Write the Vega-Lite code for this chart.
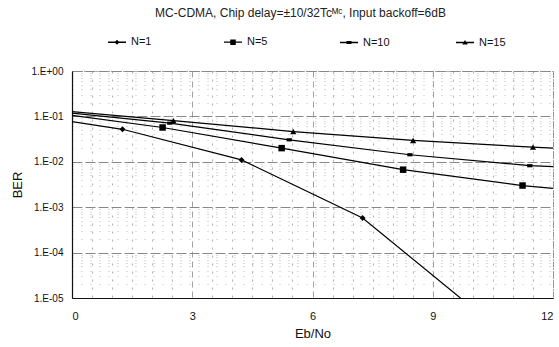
{
  "$schema": "https://vega.github.io/schema/vega-lite/v6.json",
  "autosize": "none",
  "width": 481,
  "height": 227,
  "padding": {"left": 72, "top": 71, "right": 6, "bottom": 49},
  "background": "white",
  "config": {
    "font": "Liberation Sans",
    "view": {"stroke": "#555", "strokeDash": [1, 2], "strokeWidth": 1}
  },
  "title": {
    "text": "MC-CDMA, Chip delay=±10/32Tcᴹᶜ, Input backoff=6dB",
    "fontSize": 12,
    "fontWeight": "normal",
    "color": "#222",
    "anchor": "middle",
    "dx": -12,
    "offset": 16
  },
  "datasets": {
    "curve": [
      {"N": "N=1", "ebno": 0, "ber": 0.077},
      {"N": "N=1", "ebno": 1.26, "ber": 0.052},
      {"N": "N=1", "ebno": 4.23, "ber": 0.011},
      {"N": "N=1", "ebno": 7.25, "ber": 0.00058},
      {"N": "N=1", "ebno": 9.69, "ber": 0.00001},
      {"N": "N=5", "ebno": 0, "ber": 0.105},
      {"N": "N=5", "ebno": 2.26, "ber": 0.057},
      {"N": "N=5", "ebno": 5.23, "ber": 0.020},
      {"N": "N=5", "ebno": 8.26, "ber": 0.0067},
      {"N": "N=5", "ebno": 11.24, "ber": 0.0030},
      {"N": "N=5", "ebno": 12, "ber": 0.0026},
      {"N": "N=10", "ebno": 0, "ber": 0.118},
      {"N": "N=10", "ebno": 2.44, "ber": 0.071},
      {"N": "N=10", "ebno": 5.42, "ber": 0.0305},
      {"N": "N=10", "ebno": 8.43, "ber": 0.0143},
      {"N": "N=10", "ebno": 11.42, "ber": 0.0082},
      {"N": "N=10", "ebno": 12, "ber": 0.0078},
      {"N": "N=15", "ebno": 0, "ber": 0.128},
      {"N": "N=15", "ebno": 2.53, "ber": 0.081},
      {"N": "N=15", "ebno": 5.52, "ber": 0.0464},
      {"N": "N=15", "ebno": 8.51, "ber": 0.0295},
      {"N": "N=15", "ebno": 11.5, "ber": 0.021},
      {"N": "N=15", "ebno": 12, "ber": 0.020}
    ],
    "marker": [
      {"N": "N=1", "ebno": 1.26, "ber": 0.052},
      {"N": "N=1", "ebno": 4.23, "ber": 0.011},
      {"N": "N=1", "ebno": 7.25, "ber": 0.00058},
      {"N": "N=5", "ebno": 2.26, "ber": 0.057},
      {"N": "N=5", "ebno": 5.23, "ber": 0.020},
      {"N": "N=5", "ebno": 8.26, "ber": 0.0067},
      {"N": "N=5", "ebno": 11.24, "ber": 0.0030},
      {"N": "N=10", "ebno": 2.44, "ber": 0.071},
      {"N": "N=10", "ebno": 5.42, "ber": 0.0305},
      {"N": "N=10", "ebno": 8.43, "ber": 0.0143},
      {"N": "N=10", "ebno": 11.42, "ber": 0.0082},
      {"N": "N=15", "ebno": 2.53, "ber": 0.081},
      {"N": "N=15", "ebno": 5.52, "ber": 0.0464},
      {"N": "N=15", "ebno": 8.51, "ber": 0.0295},
      {"N": "N=15", "ebno": 11.5, "ber": 0.021}
    ]
  },
  "resolve": {"axis": {"y": "independent", "x": "independent"}},
  "layer": [
    {
      "data": {"name": "curve"},
      "mark": {"type": "line", "color": "black", "strokeWidth": 1.2, "clip": true},
      "encoding": {
        "x": {
          "field": "ebno", "type": "quantitative",
          "scale": {"domain": [0, 12], "nice": false, "zero": false},
          "axis": {
            "title": "Eb/No", "titleFontSize": 13, "titleFontWeight": "normal", "titleColor": "#111", "titlePadding": 6,
            "values": [0, 3, 6, 9, 12], "ticks": false, "labelPadding": 12, "labelFontSize": 11, "labelColor": "#111",
            "grid": true, "gridColor": "#888", "gridDash": [6, 4], "gridWidth": 0.8,
            "domainColor": "#111", "domainWidth": 1.2
          }
        },
        "y": {
          "field": "ber", "type": "quantitative",
          "scale": {"type": "log", "domain": [0.00001, 1], "nice": false},
          "axis": {
            "title": "BER", "titleFontSize": 13, "titleFontWeight": "normal", "titleColor": "#111", "titlePadding": 7,
            "values": [0.00001, 0.0001, 0.001, 0.01, 0.1, 1],
            "labelExpr": "datum.value >= 1 ? '1.E+00' : '1.E-0' + round(-log(datum.value) / LN10)",
            "ticks": false, "labelPadding": 9, "labelFontSize": 10, "labelColor": "#111",
            "grid": true, "gridColor": "#888", "gridDash": [10, 3], "gridWidth": 1,
            "domainColor": "#111", "domainWidth": 1.2
          }
        },
        "detail": {"field": "N", "type": "nominal"}
      }
    },
    {
      "data": {"name": "marker"},
      "transform": [{"filter": "datum.N == 'N=1'"}],
      "mark": {"type": "point", "filled": true, "color": "black", "opacity": 1, "size": 35, "shape": "diamond"},
      "encoding": {
        "x": {
          "field": "ebno", "type": "quantitative",
          "axis": {
            "values": [0.5, 1, 1.5, 2, 2.5, 3.5, 4, 4.5, 5, 5.5, 6.5, 7, 7.5, 8, 8.5, 9.5, 10, 10.5, 11, 11.5],
            "labels": false, "ticks": false, "domain": false, "title": null, "orient": "bottom",
            "grid": true, "gridColor": "#999", "gridDash": [2, 6], "gridWidth": 0.8
          }
        },
        "y": {
          "field": "ber", "type": "quantitative",
          "axis": {
            "orient": "left", "labels": false, "ticks": false, "domain": false, "title": null,
            "values": [0.00002, 0.00003, 0.00004, 0.00005, 0.00006, 0.00007, 0.00008, 0.00009,
                       0.0002, 0.0003, 0.0004, 0.0005, 0.0006, 0.0007, 0.0008, 0.0009,
                       0.002, 0.003, 0.004, 0.005, 0.006, 0.007, 0.008, 0.009,
                       0.02, 0.03, 0.04, 0.05, 0.06, 0.07, 0.08, 0.09,
                       0.2, 0.3, 0.4, 0.5, 0.6, 0.7, 0.8, 0.9],
            "grid": true, "gridColor": "#aaa", "gridDash": [1, 8], "gridWidth": 0.8
          }
        }
      }
    },
    {
      "data": {"name": "marker"},
      "transform": [{"filter": "datum.N == 'N=5'"}],
      "mark": {"type": "point", "filled": true, "color": "black", "opacity": 1, "size": 42, "shape": "square"},
      "encoding": {
        "x": {"field": "ebno", "type": "quantitative", "axis": null},
        "y": {"field": "ber", "type": "quantitative", "axis": null}
      }
    },
    {
      "data": {"name": "marker"},
      "transform": [{"filter": "datum.N == 'N=10'"}],
      "mark": {"type": "point", "filled": true, "color": "black", "opacity": 1, "size": 28, "shape": "M-1,-0.6H1V0.6H-1Z"},
      "encoding": {
        "x": {"field": "ebno", "type": "quantitative", "axis": null},
        "y": {"field": "ber", "type": "quantitative", "axis": null}
      }
    },
    {
      "data": {"name": "marker"},
      "transform": [{"filter": "datum.N == 'N=15'"}],
      "mark": {"type": "point", "filled": true, "color": "black", "opacity": 1, "size": 38, "shape": "triangle-up"},
      "encoding": {
        "x": {"field": "ebno", "type": "quantitative", "axis": null},
        "y": {"field": "ber", "type": "quantitative", "axis": null}
      }
    },
    {
      "data": {"name": "marker"},
      "transform": [{"filter": "false"}],
      "mark": {"type": "point", "filled": true, "color": "black", "opacity": 1},
      "encoding": {
        "shape": {
          "field": "N", "type": "nominal",
          "scale": {
            "domain": ["N=1", "N=5", "N=10", "N=15"],
            "range": [
              "M-1.8,-0.13H1.8V0.13H-1.8ZM-0.5,0L0,-0.5L0.5,0L0,0.5Z",
              "M-1.8,-0.13H1.8V0.13H-1.8ZM-0.55,-0.55H0.55V0.55H-0.55Z",
              "M-1.8,-0.13H1.8V0.13H-1.8ZM-0.5,-0.32H0.5V0.32H-0.5Z",
              "M-1.8,-0.13H1.8V0.13H-1.8ZM-0.55,0.4L0,-0.5L0.55,0.4Z"
            ]
          },
          "legend": {
            "title": null, "orient": "none", "direction": "horizontal", "columns": 4,
            "legendX": 39, "legendY": -35, "gridAlign": "all", "columnPadding": 63,
            "labelFontSize": 11, "labelColor": "#111", "labelOffset": 8, "symbolSize": 100,
            "symbolFillColor": "black"
          }
        }
      }
    }
  ]
}
